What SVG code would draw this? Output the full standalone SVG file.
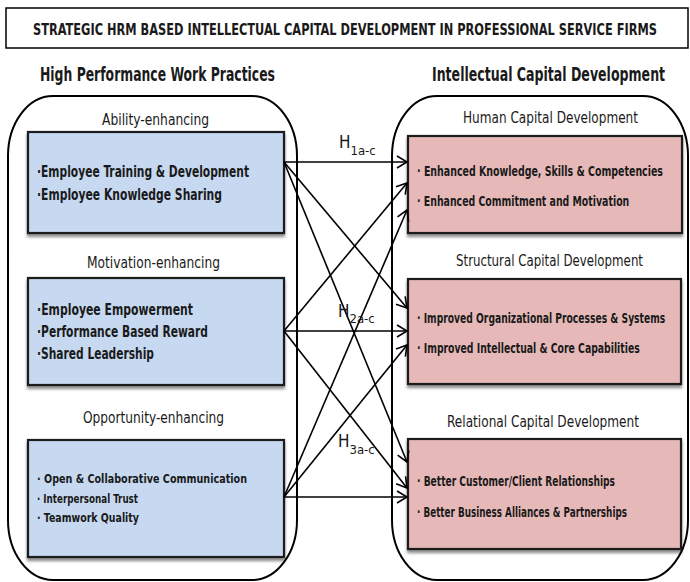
<svg xmlns="http://www.w3.org/2000/svg" width="690" height="582" viewBox="0 0 690 582">
<style>
text{font-family:"DejaVu Sans Condensed","Liberation Sans",sans-serif;fill:#1a1a1a;}
.title{font-size:15px;font-weight:bold;}
.hdr{font-size:19px;font-weight:bold;}
.cat{font-size:15px;}
.item{font-size:15px;font-weight:bold;}
.small{font-size:13px;font-weight:bold;}
.pitem{font-size:13.5px;font-weight:bold;}
.cont{fill:#fff;stroke:#000;stroke-width:2;}
.blue{fill:#C6D9F1;stroke:#1a1a1a;stroke-width:2.2;filter:url(#sh);}
.pink{fill:#E6B9B8;stroke:#1a1a1a;stroke-width:2.2;filter:url(#sh);}
.conn line{stroke:#000;stroke-width:1.6;marker-end:url(#arr);}
.h{font-size:17px;}
.hs{font-size:13px;}
</style>
<defs>
<filter id="sh" x="-5%" y="-5%" width="110%" height="120%">
<feDropShadow dx="0" dy="3" stdDeviation="1.8" flood-color="#000" flood-opacity="0.45"/>
</filter>
<marker id="arr" markerUnits="userSpaceOnUse" markerWidth="14" markerHeight="16" refX="11" refY="7" orient="auto">
<path d="M1,1 L11,7 L1,13" fill="none" stroke="#000" stroke-width="1.6"/>
</marker>
</defs>
<rect width="690" height="582" fill="#fff"/>
<g id="title">
<rect x="6" y="8" width="682" height="40" fill="#fff" stroke="#000" stroke-width="1.5"/>
<text class="title" text-anchor="middle" transform="translate(345,35) scale(0.78,1)" textLength="800" lengthAdjust="spacingAndGlyphs">STRATEGIC HRM BASED INTELLECTUAL CAPITAL DEVELOPMENT IN PROFESSIONAL SERVICE FIRMS</text>
</g>
<g id="hpwp">
<text class="hdr" x="40" y="81" textLength="235" lengthAdjust="spacingAndGlyphs">High Performance Work Practices</text>
<rect class="cont" x="8" y="96" width="289" height="484" rx="45" ry="60"/>
</g>
<g id="icd">
<text class="hdr" transform="translate(432,81) scale(0.7,1)" textLength="333" lengthAdjust="spacingAndGlyphs">Intellectual Capital Development</text>
<rect class="cont" x="392" y="96" width="296" height="484" rx="45" ry="60"/>
</g>
<g id="ability">
<text class="cat" x="102" y="125" textLength="107" lengthAdjust="spacingAndGlyphs">Ability-enhancing</text>
<rect class="blue" x="28" y="132" width="256" height="101"/>
<text class="item" x="37" y="177" textLength="212" lengthAdjust="spacingAndGlyphs">·Employee Training &amp; Development</text>
<text class="item" x="37" y="200" textLength="185" lengthAdjust="spacingAndGlyphs">·Employee Knowledge Sharing</text>
</g>
<g id="motivation">
<text class="cat" x="87" y="268" textLength="133" lengthAdjust="spacingAndGlyphs">Motivation-enhancing</text>
<rect class="blue" x="28" y="278" width="256" height="107"/>
<text class="item" x="37" y="315" textLength="156" lengthAdjust="spacingAndGlyphs">·Employee Empowerment</text>
<text class="item" x="37" y="337" textLength="171" lengthAdjust="spacingAndGlyphs">·Performance Based Reward</text>
<text class="item" x="37" y="359" textLength="117" lengthAdjust="spacingAndGlyphs">·Shared Leadership</text>
</g>
<g id="opportunity">
<text class="cat" x="83" y="423" textLength="141" lengthAdjust="spacingAndGlyphs">Opportunity-enhancing</text>
<rect class="blue" x="28" y="440" width="256" height="117"/>
<text class="small" x="37" y="483" textLength="210" lengthAdjust="spacingAndGlyphs">· Open &amp; Collaborative Communication</text>
<text class="small" x="37" y="503" textLength="101" lengthAdjust="spacingAndGlyphs">· Interpersonal Trust</text>
<text class="small" x="37" y="522" textLength="102" lengthAdjust="spacingAndGlyphs">· Teamwork Quality</text>
</g>
<g id="human">
<text class="cat" x="463" y="123" textLength="175" lengthAdjust="spacingAndGlyphs">Human Capital Development</text>
<rect class="pink" x="408" y="136" width="274" height="97"/>
<text class="pitem" transform="translate(417,176) scale(0.75,1)" textLength="328" lengthAdjust="spacingAndGlyphs">· Enhanced Knowledge, Skills &amp; Competencies</text>
<text class="pitem" transform="translate(417,206) scale(0.75,1)" textLength="283" lengthAdjust="spacingAndGlyphs">· Enhanced Commitment and Motivation</text>
</g>
<g id="structural">
<text class="cat" x="456" y="266" textLength="187" lengthAdjust="spacingAndGlyphs">Structural Capital Development</text>
<rect class="pink" x="408" y="279" width="273" height="105"/>
<text class="pitem" transform="translate(417,323) scale(0.75,1)" textLength="331" lengthAdjust="spacingAndGlyphs">· Improved Organizational Processes &amp; Systems</text>
<text class="pitem" transform="translate(417,353) scale(0.75,1)" textLength="297" lengthAdjust="spacingAndGlyphs">· Improved Intellectual &amp; Core Capabilities</text>
</g>
<g id="relational">
<text class="cat" x="447" y="427" textLength="192" lengthAdjust="spacingAndGlyphs">Relational Capital Development</text>
<rect class="pink" x="408" y="439" width="273" height="110"/>
<text class="pitem" transform="translate(417,486) scale(0.75,1)" textLength="264" lengthAdjust="spacingAndGlyphs">· Better Customer/Client Relationships</text>
<text class="pitem" transform="translate(417,517) scale(0.75,1)" textLength="280" lengthAdjust="spacingAndGlyphs">· Better Business Alliances &amp; Partnerships</text>
</g>
<g id="connectors" class="conn">
<line x1="284" y1="162" x2="407" y2="162"/>
<line x1="284" y1="162" x2="407" y2="308"/>
<line x1="284" y1="162" x2="407" y2="462"/>
<line x1="284" y1="331" x2="407" y2="183"/>
<line x1="284" y1="331" x2="407" y2="331"/>
<line x1="284" y1="331" x2="407" y2="488"/>
<line x1="284" y1="497" x2="407" y2="210"/>
<line x1="284" y1="497" x2="407" y2="345"/>
<line x1="284" y1="497" x2="407" y2="497"/>
</g>
<g id="labels">
<text x="339" y="148"><tspan class="h">H</tspan><tspan class="hs" dy="7">1a-c</tspan></text>
<text x="338" y="317"><tspan class="h">H</tspan><tspan class="hs" dy="6">2a-c</tspan></text>
<text x="338" y="447"><tspan class="h">H</tspan><tspan class="hs" dy="7">3a-c</tspan></text>
</g>
</svg>
